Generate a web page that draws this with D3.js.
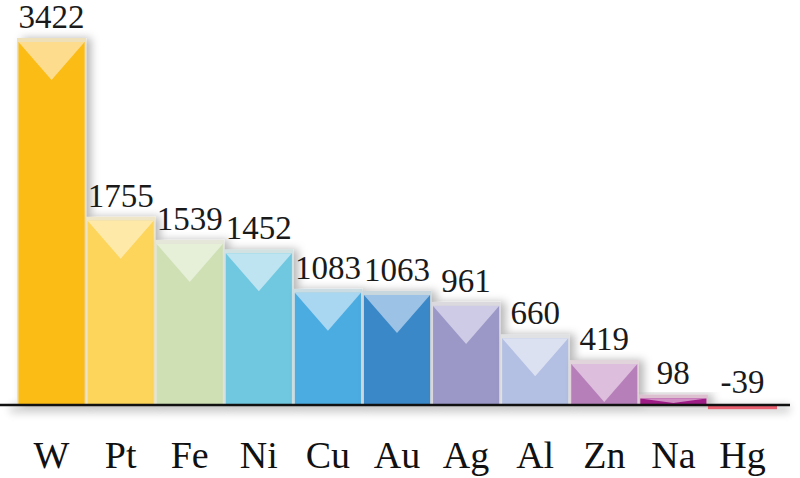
<!DOCTYPE html>
<html><head><meta charset="utf-8">
<script src="https://cdn.jsdelivr.net/npm/d3@7"></script>
<style>body{margin:0;background:#fff}svg{display:block}</style>
</head><body>
<script>
const categories = ["W","Pt","Fe","Ni","Cu","Au","Ag","Al","Zn","Na","Hg"];
const values = [3422,1755,1539,1452,1083,1063,961,660,419,98,-39];
const barColors = ["#FBBC14","#FDD55A","#CFE0B5","#6FC7E0","#4BACE2","#3A88C8","#9B98C8","#B3BFE3","#B77FBA","#9E1A86","#E96070"];
const triColors = ["#FDDC8E","#FEE9A8","#E6EFD8","#BDE4F0","#A9D7F2","#9CC3E6","#CDCBE5","#DCE1F2","#DDBEDD","#D08EC5","#F19AA5"];
const SERIF = '"Liberation Serif", "Times New Roman", serif';

const W = 800, H = 478;
const svg = d3.select("body").append("svg").attr("width", W).attr("height", H);
const defs = svg.append("defs");
const f = defs.append("filter").attr("id","sh").attr("x","-20%").attr("y","-20%").attr("width","160%").attr("height","140%");
f.append("feDropShadow").attr("dx",5).attr("dy",0).attr("stdDeviation",4).attr("flood-color","#000").attr("flood-opacity",0.28);
const fb = defs.append("filter").attr("id","blur").attr("x","-10%").attr("y","-200%").attr("width","120%").attr("height","500%");
fb.append("feGaussianBlur").attr("stdDeviation",4);

const x = d3.scaleBand().domain(categories).range([17, 777]).padding(0);
const y = d3.scaleLinear().domain([0, 3422]).range([405, 38]);

// axis shadow
svg.append("rect").attr("x",10).attr("y",405).attr("width",780).attr("height",8)
  .attr("fill","#000").attr("opacity",0.18).attr("filter","url(#blur)");

const data = categories.map((c,i)=>({c, v:values[i], col:barColors[i], tri:triColors[i]}));
const g = svg.append("g");
data.forEach(d=>{
  const x0 = x(d.c), bw = x.bandwidth();
  const top = Math.min(y(d.v), y(0)), bot = Math.max(y(d.v), y(0));
  const h = bot - top;
  const bg = g.append("g").attr("filter", d.v>0 ? "url(#sh)" : null);
  const border = d3.interpolateRgb(d.col, "#ebe9e2")(0.8);
  if (d.v > 0) {
    bg.append("rect").attr("x",x0).attr("y",top).attr("width",bw).attr("height",h).attr("fill",border);
    const ix = x0+1.5, iw = bw-3, it = top+4;
    bg.append("rect").attr("x",ix).attr("y",it).attr("width",iw).attr("height",bot-it).attr("fill",d.col);
    const depth = Math.min(38, bot-it-2);
    bg.append("path").attr("d",`M${ix},${it}L${ix+iw},${it}L${ix+iw/2},${it+depth}Z`).attr("fill",d.tri);
  } else {
    bg.append("rect").attr("x",x0).attr("y",top).attr("width",bw).attr("height",h).attr("fill",d.col);
  }
  g.append("text").attr("x",x0+bw/2).attr("y", d.v>0 ? top-10 : y(0)-12)
    .attr("text-anchor","middle").style("font-family", SERIF)
    .attr("font-size",33).attr("fill","#1a1a1a").text(d.v);
});

// baseline
svg.append("line").attr("x1",0).attr("x2",790).attr("y1",y(0)).attr("y2",y(0))
  .attr("stroke","#111").attr("stroke-width",2.5);

// category axis labels
const ax = svg.append("g").attr("transform",`translate(0,${y(0)})`)
  .call(d3.axisBottom(x).tickSize(0).tickPadding(0));
ax.select(".domain").remove();
ax.selectAll("text").attr("y",63).attr("dy",null)
  .style("font-family", SERIF).attr("font-size",38).attr("fill","#111");
</script>
</body></html>
